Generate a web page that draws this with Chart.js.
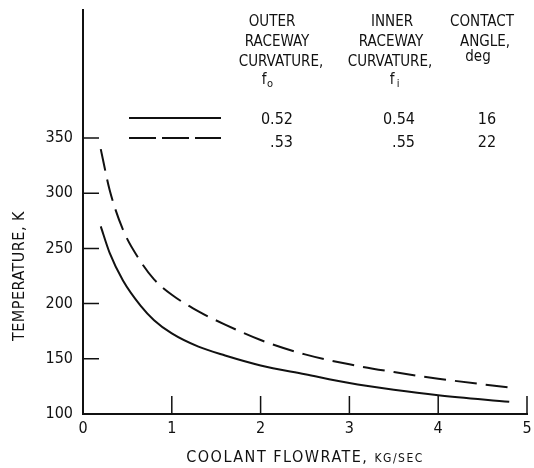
<!DOCTYPE html>
<html>
<head>
<meta charset="utf-8">
<script src="https://cdn.jsdelivr.net/npm/chart.js@4/dist/chart.umd.min.js"></script>
<style>
  html, body { margin: 0; padding: 0; background: #fff; }
</style>
</head>
<body>
<canvas id="myChart" width="534" height="468"></canvas>
<script>
// data
const flowrate = [0.2, 0.3, 0.45, 0.65, 0.8, 1.0, 1.3, 1.6, 2.0, 2.5, 3.0, 3.5, 4.0, 4.8];
const tempSolid = [270, 246, 221, 198, 185, 173, 161, 153, 144, 136, 128, 122, 117, 111];
const tempDashed = [340, 303, 267, 238, 222, 208, 193, 181, 167, 154, 145, 138, 132, 124];
const xTicks = [0, 1, 2, 3, 4, 5];
const yTicks = [100, 150, 200, 250, 300, 350];
const outerCurv = ["0.52", ".53"];
const innerCurv = ["0.54", ".55"];
const contactAngle = ["16", "22"];

const ink = "#111";
const FONT = "'DejaVu Sans Condensed', 'DejaVu Sans', sans-serif";

const toPoints = (ys) => flowrate.map((x, i) => ({ x, y: ys[i] }));

// header lettering: [text, centre x, y]
const headLines = [
  ["OUTER", 272, 22], ["RACEWAY", 277, 42], ["CURVATURE,", 281, 62],
  ["INNER", 392, 22], ["RACEWAY", 391, 42], ["CURVATURE,", 390, 62],
  ["CONTACT", 482, 22], ["ANGLE,", 485, 42], ["deg", 478, 57],
];

// extra drawing: inward tick marks, axis titles, the little table
const annot = {
  id: "annot",
  afterDraw(chart) {
    const { ctx, scales: { x, y } } = chart;
    ctx.save();
    ctx.strokeStyle = ink;
    ctx.fillStyle = ink;
    ctx.lineWidth = 1.5;
    ctx.beginPath();
    yTicks.slice(1).forEach((v) => {
      const py = y.getPixelForValue(v);
      ctx.moveTo(x.left, py);
      ctx.lineTo(x.left + 16, py);
    });
    xTicks.slice(1).forEach((v) => {
      const px = x.getPixelForValue(v);
      ctx.moveTo(px, y.bottom);
      ctx.lineTo(px, y.bottom - 18);
    });
    ctx.stroke();

    // y title
    ctx.save();
    ctx.translate(20, y.getPixelForValue(225));
    ctx.rotate(-Math.PI / 2);
    ctx.font = "16px " + FONT;
    ctx.letterSpacing = "0.5px";
    ctx.textAlign = "center";
    ctx.textBaseline = "middle";
    ctx.fillText("TEMPERATURE, K", 0, 0);
    ctx.restore();

    // x title (units in small caps)
    const big = "COOLANT FLOWRATE, ";
    const small = "KG/SEC";
    ctx.letterSpacing = "1.5px";
    ctx.textBaseline = "alphabetic";
    ctx.font = "16px " + FONT;
    const w1 = ctx.measureText(big).width;
    ctx.font = "12px " + FONT;
    const w2 = ctx.measureText(small).width;
    let sx = (x.left + x.right) / 2 - (w1 + w2) / 2;
    ctx.textAlign = "left";
    ctx.font = "16px " + FONT;
    ctx.fillText(big, sx, 462);
    ctx.font = "12px " + FONT;
    ctx.fillText(small, sx + w1, 462);
    ctx.letterSpacing = "0px";

    // legend samples
    ctx.lineWidth = 2;
    ctx.beginPath();
    ctx.moveTo(129, 118);
    ctx.lineTo(221, 118);
    ctx.stroke();
    ctx.setLineDash([27, 6]);
    ctx.beginPath();
    ctx.moveTo(129, 138);
    ctx.lineTo(221, 138);
    ctx.stroke();
    ctx.setLineDash([]);

    // table headers
    ctx.font = "15px " + FONT;
    ctx.textAlign = "center";
    ctx.textBaseline = "middle";
    headLines.forEach(([t, cx, cy]) => ctx.fillText(t, cx, cy));
    [[267, "o"], [395, "i"]].forEach(([cx, sub]) => {
      ctx.font = "15px " + FONT;
      ctx.fillText("f", cx - 3, 80);
      ctx.font = "11px " + FONT;
      ctx.fillText(sub, cx + 3, 84);
    });

    // table values
    ctx.font = "16px " + FONT;
    ctx.textAlign = "right";
    outerCurv.forEach((t, i) => ctx.fillText(t, 293, 120 + i * 23));
    innerCurv.forEach((t, i) => ctx.fillText(t, 415, 120 + i * 23));
    ctx.textAlign = "center";
    contactAngle.forEach((t, i) => ctx.fillText(t, 487, 120 + i * 23));
    ctx.restore();
  },
};

const config = {
  type: "line",
  data: {
    datasets: [
      {
        label: "0.52 / 0.54 / 16",
        data: toPoints(tempSolid),
        borderColor: ink,
        borderWidth: 2,
        pointRadius: 0,
        cubicInterpolationMode: "monotone",
      },
      {
        label: ".53 / .55 / 22",
        data: toPoints(tempDashed),
        borderColor: ink,
        borderWidth: 2,
        borderDash: [22, 9],
        pointRadius: 0,
        cubicInterpolationMode: "monotone",
      },
    ],
  },
  options: {
    responsive: false,
    animation: false,
    layout: { padding: { top: 10, right: 7, left: 0, bottom: 0 } },
    plugins: { legend: { display: false }, tooltip: { enabled: false } },
    scales: {
      x: {
        type: "linear",
        min: 0,
        max: 5,
        afterBuildTicks: (s) => { s.ticks = xTicks.map((v) => ({ value: v })); },
        afterFit: (s) => { s.height = 54; s.paddingLeft = 0; s.paddingRight = 0; },
        grid: { display: false, drawTicks: false },
        border: { display: true, color: ink, width: 2 },
        ticks: { color: ink, font: { family: FONT, size: 16 }, padding: 5, maxRotation: 0 },
      },
      y: {
        type: "linear",
        min: 100,
        max: 466,
        afterBuildTicks: (s) => { s.ticks = yTicks.map((v) => ({ value: v })); },
        afterFit: (s) => { s.width = 83; s.paddingTop = 0; s.paddingBottom = 0; },
        grid: { display: false, drawTicks: false },
        border: { display: true, color: ink, width: 2 },
        ticks: { color: ink, font: { family: FONT, size: 16 }, padding: 10 },
      },
    },
  },
  plugins: [annot],
};

const myChart = new Chart(document.querySelector("#myChart"), config);
</script>
</body>
</html>
